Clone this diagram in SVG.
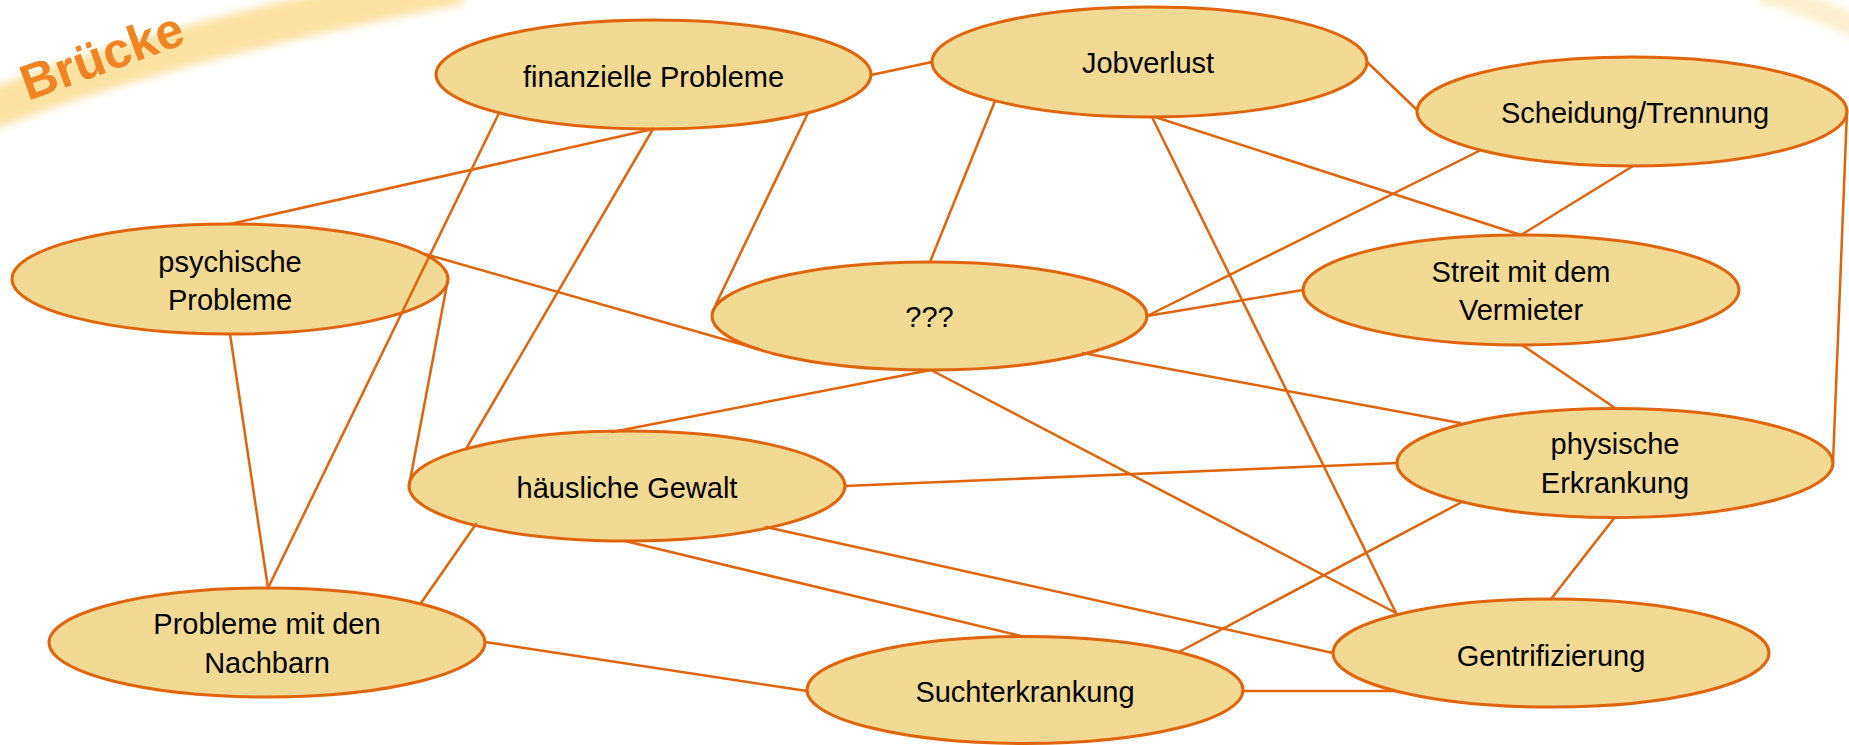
<svg xmlns="http://www.w3.org/2000/svg" width="1849" height="745" viewBox="0 0 1849 745">
  <defs>
    <filter id="soft" x="-20%" y="-50%" width="140%" height="200%">
      <feGaussianBlur stdDeviation="4"/>
    </filter>
    <style>
      .node ellipse { fill: #F2D994; stroke: #E0640C; stroke-width: 3; }
      .node text { font-family: "Liberation Sans", Arial, sans-serif; font-size: 29px; fill: #000; text-anchor: middle; }
      #connectors line { stroke: #E0640C; stroke-width: 2.5; stroke-linecap: round; }
      .brand { font-family: "Liberation Sans", Arial, sans-serif; font-weight: bold; font-size: 50px; fill: #F08423; }
    </style>
  </defs>
  <rect width="1849" height="745" fill="#FFFFFF"/>

  <!-- decorative background -->
  <g id="decor">
    <path d="M -40 122 Q 140 46 460 -16" fill="none" stroke="#FBE2A2" stroke-width="40" filter="url(#soft)"/>
    <path d="M 1760 -8 Q 1815 4 1860 30" fill="none" stroke="#FCEBC2" stroke-width="22" filter="url(#soft)" opacity="0.8"/>
    <text class="brand" transform="translate(28 101) rotate(-20)">Brücke</text>
  </g>

  <g id="nodes">
    <g id="n-finanziell" class="node">
      <ellipse cx="653.5" cy="74.5" rx="217.5" ry="54.5"/>
      <text x="653.5" y="86.5">finanzielle Probleme</text>
    </g>
    <g id="n-jobverlust" class="node">
      <ellipse cx="1149.5" cy="62" rx="217.5" ry="55"/>
      <text x="1148" y="73">Jobverlust</text>
    </g>
    <g id="n-scheidung" class="node">
      <ellipse cx="1632" cy="111.5" rx="215" ry="54.5"/>
      <text x="1635" y="122.5">Scheidung/Trennung</text>
    </g>
    <g id="n-psychisch" class="node">
      <ellipse cx="230" cy="279" rx="218" ry="55"/>
      <text x="230" y="272">psychische</text>
      <text x="230" y="310">Probleme</text>
    </g>
    <g id="n-unknown" class="node">
      <ellipse cx="929.5" cy="316" rx="217.5" ry="54"/>
      <text x="929.5" y="327">???</text>
    </g>
    <g id="n-streit" class="node">
      <ellipse cx="1521" cy="290" rx="218" ry="55"/>
      <text x="1521" y="282">Streit mit dem</text>
      <text x="1521" y="320">Vermieter</text>
    </g>
    <g id="n-physisch" class="node">
      <ellipse cx="1615" cy="463" rx="218" ry="54.5"/>
      <text x="1615" y="454">physische</text>
      <text x="1615" y="493">Erkrankung</text>
    </g>
    <g id="n-gewalt" class="node">
      <ellipse cx="627" cy="486" rx="218" ry="55"/>
      <text x="627" y="498">häusliche Gewalt</text>
    </g>
    <g id="n-nachbarn" class="node">
      <ellipse cx="267" cy="642.5" rx="218" ry="54.5"/>
      <text x="267" y="634">Probleme mit den</text>
      <text x="267" y="673">Nachbarn</text>
    </g>
    <g id="n-sucht" class="node">
      <ellipse cx="1025" cy="690" rx="218" ry="53.5"/>
      <text x="1025" y="702">Suchterkrankung</text>
    </g>
    <g id="n-gentri" class="node">
      <ellipse cx="1551" cy="653" rx="218" ry="54"/>
      <text x="1551" y="666">Gentrifizierung</text>
    </g>
  </g>

  <g id="connectors">
    <line x1="871" y1="75" x2="932" y2="62"/>
    <line x1="1367" y1="62" x2="1417" y2="110"/>
    <line x1="653" y1="129" x2="230" y2="224"/>
    <line x1="499" y1="113" x2="268" y2="588"/>
    <line x1="653" y1="129" x2="466" y2="449"/>
    <line x1="808" y1="113" x2="716" y2="304"/>
    <line x1="995" y1="101" x2="930" y2="262"/>
    <line x1="1152" y1="117" x2="1396" y2="613"/>
    <line x1="1155" y1="117" x2="1521" y2="235"/>
    <line x1="1479" y1="151" x2="1147" y2="316"/>
    <line x1="1633" y1="166" x2="1521" y2="235"/>
    <line x1="1847" y1="111" x2="1833" y2="463"/>
    <line x1="1147" y1="316" x2="1303" y2="290"/>
    <line x1="425" y1="254" x2="758" y2="349"/>
    <line x1="448" y1="279" x2="409" y2="486"/>
    <line x1="230" y1="334" x2="268" y2="588"/>
    <line x1="931" y1="370" x2="612" y2="432"/>
    <line x1="931" y1="370" x2="1396" y2="613"/>
    <line x1="1083" y1="353" x2="1460" y2="423"/>
    <line x1="1522" y1="345" x2="1615" y2="408"/>
    <line x1="845" y1="486" x2="1397" y2="463"/>
    <line x1="476" y1="524" x2="421" y2="603"/>
    <line x1="625" y1="541" x2="1025" y2="637"/>
    <line x1="766" y1="527" x2="1333" y2="653"/>
    <line x1="1460" y1="503" x2="1179" y2="652"/>
    <line x1="1615" y1="517" x2="1551" y2="599"/>
    <line x1="485" y1="642" x2="807" y2="691"/>
    <line x1="1243" y1="691" x2="1395" y2="691"/>
  </g>
</svg>
